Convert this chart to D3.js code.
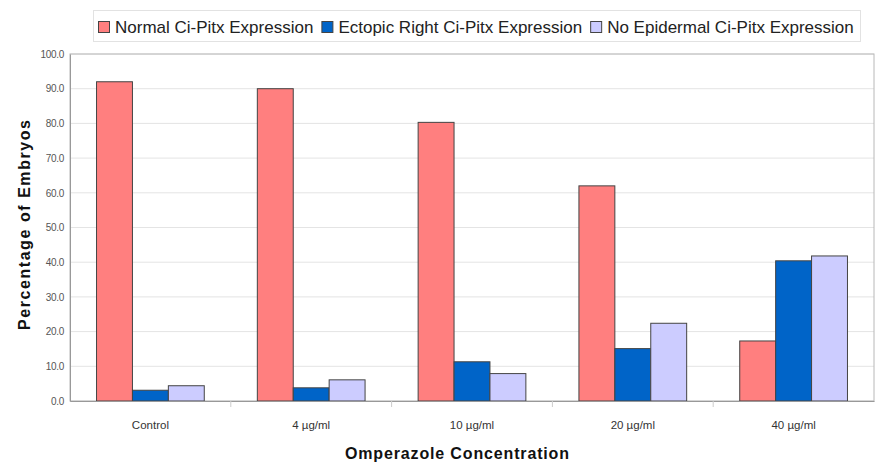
<!DOCTYPE html>
<html>
<head>
<meta charset="utf-8">
<script src="https://cdn.jsdelivr.net/npm/d3@7"></script>
<style>
  body { margin: 0; background: #fff; }
  svg { display: block; font-family: "Liberation Sans", Arial, sans-serif; }
</style>
</head>
<body>
<svg id="chart" width="877" height="463"></svg>
<script>
/* ---------- data ---------- */
const categories = ['Control', '4 µg/ml', '10 µg/ml', '20 µg/ml', '40 µg/ml'];
const seriesNames = [
  'Normal Ci-Pitx Expression',
  'Ectopic Right Ci-Pitx Expression',
  'No Epidermal Ci-Pitx Expression'
];
const normalValues = [92.0, 90.0, 80.3, 62.0, 17.3];
const ectopicValues = [3.1, 3.8, 11.3, 15.1, 40.4];
const noEpidermalValues = [4.4, 6.1, 7.9, 22.4, 41.8];
const yTicks = [0, 10, 20, 30, 40, 50, 60, 70, 80, 90, 100];
const colors = ['#ff7f7f', '#0064c8', '#ccccff'];

const seriesValues = [normalValues, ectopicValues, noEpidermalValues];

/* ---------- layout ---------- */
const svg = d3.select('#chart');
const margin = { top: 54, right: 3, bottom: 62, left: 70 };
const W = 877, H = 463;
const w = W - margin.left - margin.right;
const h = H - margin.top - margin.bottom;

const g = svg.append('g').attr('transform', `translate(${margin.left},${margin.top})`);

const x0 = d3.scaleBand().domain(categories).range([0, w]).paddingInner(0.33).paddingOuter(0.165);
const x1 = d3.scaleBand().domain(seriesNames).range([0, x0.bandwidth()]);
const y = d3.scaleLinear().domain([0, 100]).range([h, 0]);

// gridlines
g.append('g')
  .selectAll('line')
  .data(yTicks)
  .enter()
  .append('line')
  .attr('x1', 0)
  .attr('x2', w)
  .attr('y1', d => y(d))
  .attr('y2', d => y(d))
  .attr('stroke', '#e4e4e4')
  .attr('stroke-width', 1);

// plot border
g.append('rect')
  .attr('x', 0)
  .attr('y', 0)
  .attr('width', w)
  .attr('height', h)
  .attr('fill', 'none')
  .attr('stroke', '#b8b8b8')
  .attr('stroke-width', 1);

// bars
const groups = g.selectAll('.grp')
  .data(categories)
  .enter()
  .append('g')
  .attr('transform', d => `translate(${x0(d)},0)`);

groups.selectAll('rect')
  .data((c, i) => seriesNames.map((s, k) => ({ s, k, v: seriesValues[k][i] })))
  .enter()
  .append('rect')
  .attr('x', d => x1(d.s))
  .attr('y', d => y(d.v))
  .attr('width', x1.bandwidth())
  .attr('height', d => h - y(d.v))
  .attr('fill', d => colors[d.k])
  .attr('stroke', '#444')
  .attr('stroke-width', 1);

// y axis
const yAxis = g.append('g')
  .call(d3.axisLeft(y).tickValues(yTicks).tickFormat(d3.format('.1f')).tickSize(0).tickPadding(6));
yAxis.select('.domain').attr('stroke', '#999');
yAxis.selectAll('text')
  .attr('fill', '#555')
  .style('font-size', '10px')
  .style('letter-spacing', '-0.3px');

// x axis
const xAxis = g.append('g')
  .attr('transform', `translate(0,${h})`)
  .call(d3.axisBottom(x0).tickSize(0).tickPadding(20));
xAxis.select('.domain').attr('stroke', '#999');
xAxis.selectAll('text')
  .attr('fill', '#333')
  .style('font-size', '11.5px');

// category separator ticks
xAxis.append('g')
  .selectAll('line')
  .data(categories.slice(1))
  .enter()
  .append('line')
  .attr('x1', d => x0(d) - x0.step() * x0.paddingInner() / 2)
  .attr('x2', d => x0(d) - x0.step() * x0.paddingInner() / 2)
  .attr('y1', 0)
  .attr('y2', 6)
  .attr('stroke', '#ccc');

// axis titles
svg.append('text')
  .attr('x', 457)
  .attr('y', 459)
  .attr('text-anchor', 'middle')
  .attr('font-size', '16px')
  .attr('font-weight', 'bold')
  .attr('fill', '#111')
  .attr('textLength', 224)
  .attr('lengthAdjust', 'spacing')
  .text('Omperazole Concentration');

svg.append('text')
  .attr('transform', `translate(30,225) rotate(-90)`)
  .attr('text-anchor', 'middle')
  .attr('font-size', '16px')
  .attr('font-weight', 'bold')
  .attr('fill', '#111')
  .attr('textLength', 210)
  .attr('lengthAdjust', 'spacing')
  .text('Percentage of Embryos');

// legend
const legend = svg.append('g');
legend.append('rect')
  .attr('x', 93.5)
  .attr('y', 10.5)
  .attr('width', 767)
  .attr('height', 31)
  .attr('fill', '#fff')
  .attr('stroke', '#e2e2e2');

let lx = 98;
seriesNames.forEach((s, k) => {
  legend.append('rect')
    .attr('x', lx + 0.5)
    .attr('y', 21.5)
    .attr('width', 11)
    .attr('height', 11)
    .attr('fill', colors[k])
    .attr('stroke', '#444');
  const t = legend.append('text')
    .attr('x', lx + 17)
    .attr('y', 33)
    .attr('font-size', '17px')
    .attr('fill', '#222')
    .text(s);
  lx += 17 + t.node().getComputedTextLength() + 8;
});
</script>
</body>
</html>
